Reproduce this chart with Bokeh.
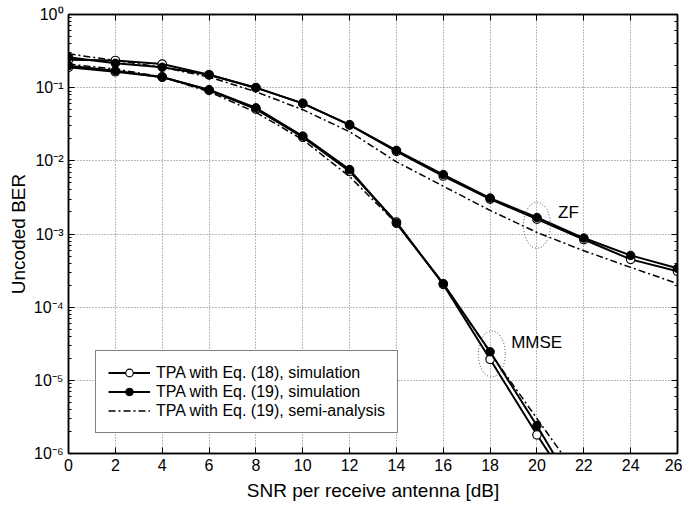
from bokeh.plotting import figure
from bokeh.models import (Legend, LegendItem, LinearAxis, LogAxis, FixedTicker,
                          CustomJSTickFormatter, Range1d, LogTicker)
from bokeh.core.properties import value
from bokeh.embed import file_html
from bokeh.resources import INLINE

# ---------------- data ----------------
snr = [0, 2, 4, 6, 8, 10, 12, 14, 16, 18, 20, 22, 24, 26]
zf_eq18 = [0.24, 0.235, 0.21, 0.15, 0.10, 0.061, 0.031, 0.0135, 0.0062, 0.0030, 0.0016, 0.00084, 0.00045, 0.00031]
zf_eq19 = [0.26, 0.215, 0.19, 0.15, 0.10, 0.061, 0.031, 0.0139, 0.0065, 0.0031, 0.00168, 0.00088, 0.00051, 0.00034]
zf_semi = [0.29, 0.235, 0.19, 0.14, 0.088, 0.050, 0.025, 0.0097, 0.0045, 0.0021, 0.00105, 0.00059, 0.00035, 0.00021]

snr_mmse = [0, 2, 4, 6, 8, 10, 12, 14, 16, 18, 20, 22]
mmse_eq18 = [0.19, 0.165, 0.14, 0.092, 0.051, 0.021, 0.0072, 0.00145, 0.000205, 1.94e-5, 1.8e-6, 1.9e-7]
mmse_eq19 = [0.20, 0.17, 0.139, 0.094, 0.053, 0.0218, 0.0076, 0.0014, 0.00021, 2.46e-5, 2.4e-6, 2.0e-7]
mmse_semi = [0.21, 0.18, 0.14, 0.088, 0.046, 0.0195, 0.0061, 0.0014, 0.00021, 2.4e-5, 3.0e-6, 3.8e-7]

x_ticks = [0, 2, 4, 6, 8, 10, 12, 14, 16, 18, 20, 22, 24, 26]

labels = ["TPA with Eq. (18), simulation",
          "TPA with Eq. (19), simulation",
          "TPA with Eq. (19), semi-analysis"]

ann_text = ["ZF", "MMSE"]
ann_x = [20.9, 18.9]
ann_y = [10 ** -2.70, 10 ** -4.48]
ell_x = [20.0, 18.07]
ell_y = [10 ** -2.88, 10 ** -4.64]

FONT = "Liberation Sans"

p = figure(frame_width=609, frame_height=439,
           x_range=Range1d(0, 26), y_range=Range1d(1e-6, 1),
           y_axis_type="log", output_backend="svg", toolbar_location=None,
           min_border_left=68, min_border_right=5, min_border_top=14,
           min_border_bottom=0)

p.outline_line_color = "black"
p.outline_line_width = 1.5

# grid
for g in (p.xgrid, p.ygrid):
    g.grid_line_color = "#777777"
    g.grid_line_dash = "1 2"
    g.grid_line_width = 1
p.xgrid.ticker = FixedTicker(ticks=x_ticks)

fmt = CustomJSTickFormatter(code="""
const sup = {'0':'\u2070','1':'\u00b9','2':'\u00b2','3':'\u00b3','4':'\u2074','5':'\u2075',
             '6':'\u2076','7':'\u2077','8':'\u2078','9':'\u2079','-':'\u207b'};
const e = Math.round(Math.log10(tick));
return '10' + String(e).split('').map(c => sup[c]).join('');
""")

xa = p.xaxis[0]
xa.ticker = FixedTicker(ticks=x_ticks)
ya = p.yaxis[0]
ya.formatter = fmt

for ax in (xa, ya):
    ax.axis_line_color = "black"
    ax.axis_line_width = 1.5
    ax.major_tick_in = 6
    ax.major_tick_out = 0
    ax.minor_tick_in = 3
    ax.minor_tick_out = 0
    ax.major_tick_line_color = "black"
    ax.minor_tick_line_color = "black"
    ax.major_label_text_font = FONT
    ax.major_label_text_font_size = "16px"
    ax.major_label_text_color = "black"
    ax.axis_label_text_font = FONT
    ax.axis_label_text_font_size = "19px"
    ax.axis_label_text_font_style = "normal"
    ax.axis_label_text_color = "black"
xa.minor_tick_line_color = None
xa.axis_label = "SNR per receive antenna [dB]"
ya.axis_label = "Uncoded BER"
xa.major_label_standoff = 5
xa.axis_label_standoff = 6
ya.major_label_standoff = 5
ya.axis_label_standoff = 2

# top and right mirror axes (ticks only)
top = LinearAxis(ticker=FixedTicker(ticks=x_ticks))
right = LogAxis(ticker=LogTicker())
for ax in (top, right):
    ax.major_label_text_font_size = "1px"
    ax.major_label_text_color = None
    ax.major_label_standoff = 0
    ax.axis_line_color = "black"
    ax.axis_line_width = 1.5
    ax.major_tick_in = 6
    ax.major_tick_out = 0
    ax.minor_tick_in = 3
    ax.minor_tick_out = 0
    ax.major_tick_line_color = "black"
    ax.minor_tick_line_color = "black"
top.minor_tick_line_color = None
p.add_layout(top, "above")
p.add_layout(right, "right")

LW = 2
DASH = "7 3 2 3"
MS = 8.5

items = [[], [], []]
# ZF
r = p.line(snr, zf_eq18, line_color="black", line_width=LW)
s = p.scatter(snr, zf_eq18, size=MS, marker="circle", line_color="black", fill_color="white", line_width=1.2)
items[0] += [r, s]
r = p.line(snr, zf_eq19, line_color="black", line_width=LW)
s = p.scatter(snr, zf_eq19, size=MS, marker="circle", line_color="black", fill_color="black")
items[1] += [r, s]
r = p.line(snr, zf_semi, line_color="black", line_width=1.5, line_dash=DASH)
items[2] += [r]
# MMSE
p.line(snr_mmse, mmse_eq18, line_color="black", line_width=LW)
p.scatter(snr_mmse, mmse_eq18, size=MS, marker="circle", line_color="black", fill_color="white", line_width=1.2)
p.line(snr_mmse, mmse_eq19, line_color="black", line_width=LW)
p.scatter(snr_mmse, mmse_eq19, size=MS, marker="circle", line_color="black", fill_color="black")
p.line(snr_mmse, mmse_semi, line_color="black", line_width=1.5, line_dash=DASH)

# annotations
p.ellipse(x=ell_x, y=ell_y, width=27, height=46, width_units="screen", height_units="screen",
          fill_color=None, line_color="#444444", line_dash="1 2", line_width=1)
p.text(x=ann_x, y=ann_y, text=ann_text, text_baseline="middle", text_align="left",
       text_font=value(FONT), text_font_size="17px", text_color="black")

legend = Legend(items=[LegendItem(label=labels[i], renderers=items[i]) for i in range(3)],
                location=(27, 20))
legend.glyph_width = 42
legend.glyph_height = 19
legend.label_height = 19
legend.label_standoff = 6
legend.spacing = 0
legend.padding = 12
legend.margin = 0
legend.label_text_font = FONT
legend.label_text_font_size = "16px"
legend.label_text_color = "black"
legend.border_line_color = "black"
legend.border_line_width = 1.5
legend.background_fill_alpha = 1
p.add_layout(legend, "center")

open("out.html", "w").write(file_html(p, INLINE))
